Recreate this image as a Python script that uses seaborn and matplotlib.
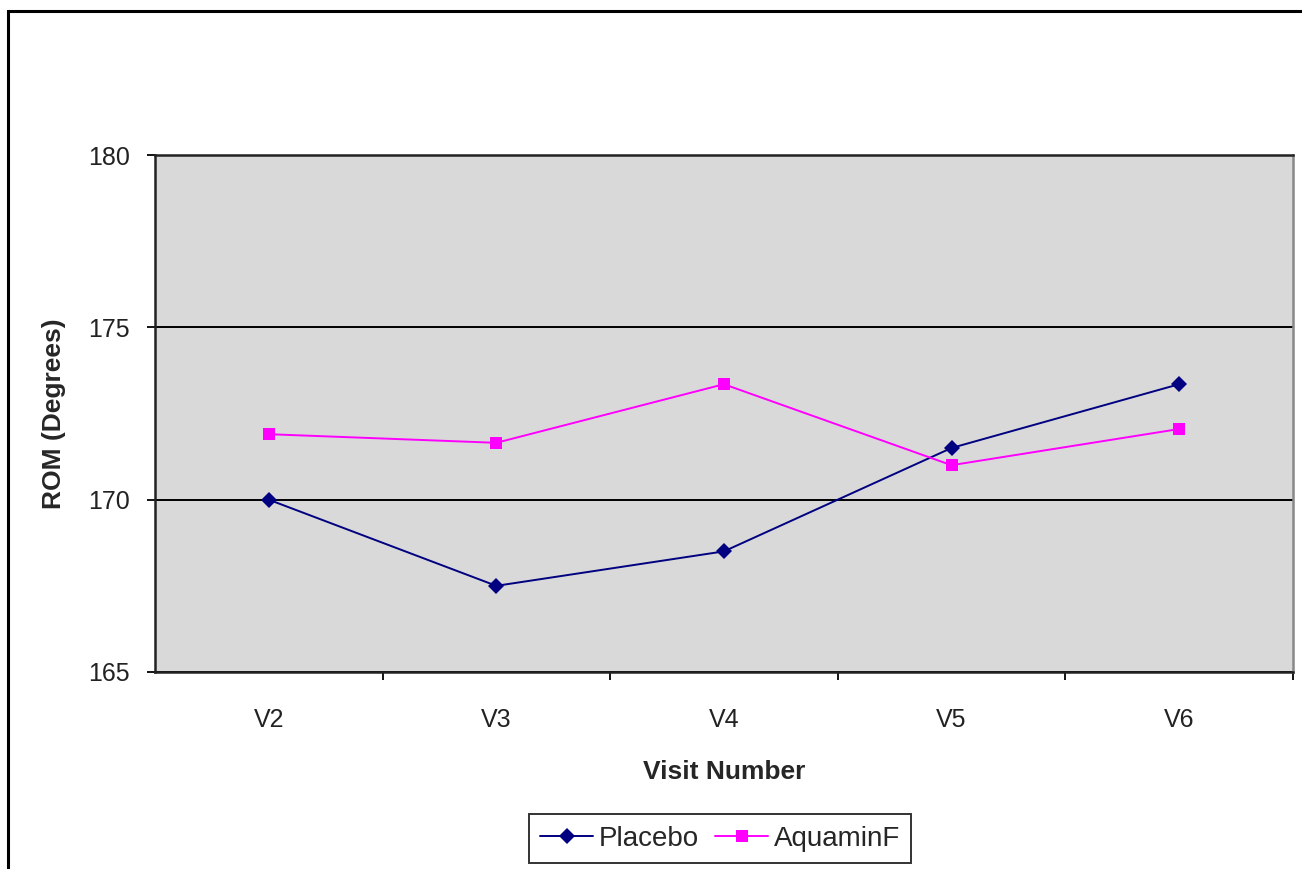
import matplotlib
matplotlib.use("Agg")
import matplotlib.pyplot as plt
from matplotlib.patches import Rectangle
import seaborn as sns
import pandas as pd

visits = ['V2', 'V3', 'V4', 'V5', 'V6']
placebo = [170.0, 167.5, 168.5, 171.5, 173.35]
aquamin = [171.9, 171.65, 173.35, 171.0, 172.05]

df = pd.DataFrame({
    'visit': visits * 2,
    'rom': placebo + aquamin,
    'group': ['Placebo'] * len(visits) + ['AquaminF'] * len(visits),
})

sns.set_style('white')
plt.rcParams['font.family'] = ['Liberation Sans', 'DejaVu Sans']

fig = plt.figure(figsize=(13.02, 8.69), dpi=100)
ax = fig.add_axes([0.119, 0.2267, 0.874, 0.5949])
ax.set_facecolor('#D9D9D9')

sns.lineplot(data=df, x='visit', y='rom', hue='group', style='group',
             palette={'Placebo': '#000080', 'AquaminF': '#FF00FF'},
             markers={'Placebo': 'D', 'AquaminF': 's'}, dashes=False,
             markersize=8, linewidth=1.4, markeredgewidth=0, ax=ax)

ax.set_xlim(-0.5, 4.5)
ax.set_ylim(165, 180)
ax.set_yticks([165, 170, 175, 180])
ax.set_xticks(range(len(visits)))
ax.set_xticklabels(visits)
ax.set_xticks([0.5, 1.5, 2.5, 3.5, 4.5], minor=True)
ax.tick_params(axis='x', which='major', length=0, pad=26, labelsize=18, labelcolor='#222222')
ax.tick_params(axis='x', which='minor', length=6, width=1.3, direction='out', color='black', bottom=True)
ax.tick_params(axis='y', length=6, width=1.3, direction='out', left=True, pad=12,
               labelsize=18, color='black', labelcolor='#222222')
ax.set_axisbelow(True)
ax.yaxis.grid(True, color='black', linewidth=1.4)
ax.xaxis.grid(False)

for side in ['left', 'bottom', 'top']:
    ax.spines[side].set_color('#222222')
    ax.spines[side].set_linewidth(1.8)
ax.spines['right'].set_color('#888888')
ax.spines['right'].set_linewidth(1.8)

ax.set_xlabel('Visit Number', fontsize=19, fontweight='bold', labelpad=20)
ax.set_ylabel('ROM (Degrees)', fontsize=19, fontweight='bold', labelpad=16)

handles, labels = ax.get_legend_handles_labels()
ax.legend(handles, labels, loc='center', bbox_to_anchor=(0.553, 0.035),
          bbox_transform=fig.transFigure, ncol=2, frameon=True, fancybox=False,
          edgecolor='black', fontsize=20, handlelength=1.9, handletextpad=0.2,
          columnspacing=0.6, borderpad=0.4)
ax.get_legend().get_frame().set_linewidth(1.4)

fig.patches.append(Rectangle((0.006, -0.1), 1.2, 1.087, transform=fig.transFigure,
                             fill=False, edgecolor='black', linewidth=2.2))

fig.savefig('out.png', dpi=100)
